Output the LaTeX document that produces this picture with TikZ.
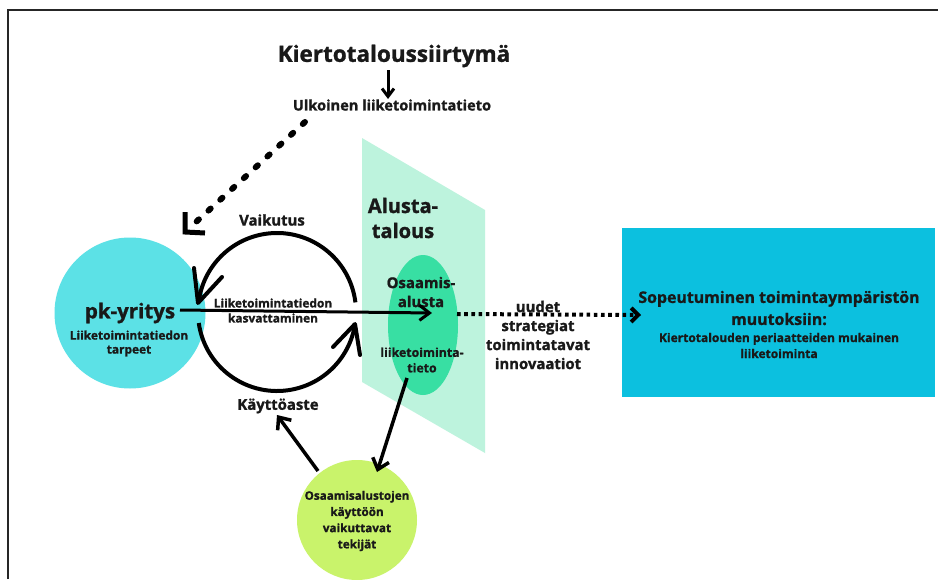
\documentclass[tikz,border=0pt]{standalone}
\usepackage{fontspec}
\setmainfont{Open Sans}[BoldFeatures={FakeBold=1.2}]
\usetikzlibrary{arrows.meta,shapes.geometric}
\definecolor{pkcyan}{HTML}{5CE1E6}
\definecolor{boxcyan}{HTML}{0CC0DF}
\definecolor{mint}{HTML}{BDF3DD}
\definecolor{platgreen}{HTML}{38DFA3}
\definecolor{lime}{HTML}{C9F36B}
\newcommand{\fs}[2]{\bfseries\fontsize{#1}{#2}\selectfont}
\begin{document}
\begin{tikzpicture}[x=1pt,y=-1pt,
  lbl/.style={align=center, inner sep=0pt, text=black!90},
  barb/.style={-{Straight Barb[length=#1,width=1.5*#1]}},
  headline/.style={line width=4pt, line join=round, line cap=round}]
\useasboundingbox (0,0) rectangle (938,579);
\fill[white] (0,0) rectangle (938,579);
% frame
\draw[line width=2pt, black!85] (8,579) -- (8,10) -- (938,10);

% header
\node[lbl, font=\fs{22.5}{26}] (title) at (394,56) {Kiertotaloussiirtymä};
\node[lbl, font=\fs{14.6}{18}] (ext) at (392,105) {Ulkoinen liiketoimintatieto};
\coordinate (t1) at (388,70);
\coordinate (t2) at (388,99);
\draw[line width=3pt, barb=8pt] (t1) -- (t2);

% platform economy plane
\fill[mint] (362,138) -- (485,210) -- (485,453) -- (362,382) -- cycle;
\node[lbl, font=\fs{20}{25}] (alusta) at (403,218) {Alusta-\\talous};

% SME circle
\node[circle, fill=pkcyan, minimum size=151pt, inner sep=0pt] (pk) at (130,313) {};
\node[lbl, font=\fs{20.5}{22}] (pkname) at (130,313) {pk-yritys};
\node[lbl, font=\fs{11.9}{14}] (pkneed) at (129,343.5) {Liiketoimintatiedon\\tarpeet};

% competence platform ellipse
\node[ellipse, fill=platgreen, minimum width=70pt, minimum height=140pt, inner sep=0pt] (osa) at (423,325) {};
\node[lbl, font=\fs{14.9}{19}] (osatxt) at (421,292) {Osaamis-\\alusta};
\node[lbl, font=\fs{12.3}{15.5}] (osainfo) at (422,360) {liiketoiminta-\\tieto};

% target box
\node[fill=boxcyan, minimum width=313pt, minimum height=169pt, inner sep=0pt] (goal) at (778.5,312.5) {};
\node[lbl, font=\fs{15.9}{22}] (goaltxt) at (779,308) {Sopeutuminen toimintaympäristön\\muutoksiin:};
\node[lbl, font=\fs{12}{16}] (goalsub) at (779,345.5) {Kiertotalouden periaatteiden mukainen\\liiketoiminta};

% factors circle
\node[circle, fill=lime, minimum size=120pt, inner sep=0pt] (fac) at (357,520) {};
\node[lbl, font=\fs{11.7}{16.2}] (factxt) at (357,521) {Osaamisalustojen\\käyttöön\\vaikuttavat\\tekijät};

% loop labels
\node[lbl, font=\fs{14.9}{18}] (vaik) at (272,220) {Vaikutus};
\node[lbl, font=\fs{14.9}{18}] (kayt) at (278,406) {Käyttöaste};
\node[lbl, font=\fs{11.9}{15}] (kasv) at (273,310.5) {Liiketoimintatiedon\\kasvattaminen};

% feedback loop
\coordinate (lc) at (277,312);
\draw[line width=4pt] (lc) ++(-7:79) arc[start angle=-7, end angle=-173, radius=79];
\draw[headline] (194,268) -- (198,303) -- (222,277);
\draw[line width=4pt] (lc) ++(172:79) arc[start angle=172, end angle=10, radius=79];
\draw[headline] (333,347) -- (355,324) -- (360,355);

% knowledge growth arrow
\coordinate (h1) at (180,310);
\coordinate (h2) at (432,313);
\draw[line width=3pt, -{Straight Barb[length=10pt,width=15pt]}] (h1) -- (h2);

% external information, dotted
\coordinate (d1) at (305,122);
\coordinate (d2) at (196,222);
\draw[line width=6pt, line cap=round, dash pattern=on 3pt off 13pt] (d1) -- (d2);
\draw[line width=5pt, line join=miter] (185,212) -- (185,232) -- (205,233);

% outcome arrow, dotted
\coordinate (o1) at (457,314);
\coordinate (o2) at (641,315);
\draw[line width=4pt, dash pattern=on 3.6pt off 3.6pt,
  -{Straight Barb[length=7pt,width=14pt]}] (o1) -- (o2);
\node[lbl, font=\fs{14.9}{19}] (outc) at (538,335) {uudet\\strategiat\\toimintatavat\\innovaatiot};

% links with factors circle
\coordinate (e1) at (407,378);
\coordinate (e2) at (377,472);
\draw[line width=3.5pt, -{Straight Barb[length=10pt,width=17pt]}] (e1) -- (e2);
\coordinate (f1) at (318,471);
\coordinate (f2) at (277,415);
\draw[line width=3.5pt, -{Straight Barb[length=10pt,width=17pt]}] (f1) -- (f2);
\end{tikzpicture}
\end{document}
